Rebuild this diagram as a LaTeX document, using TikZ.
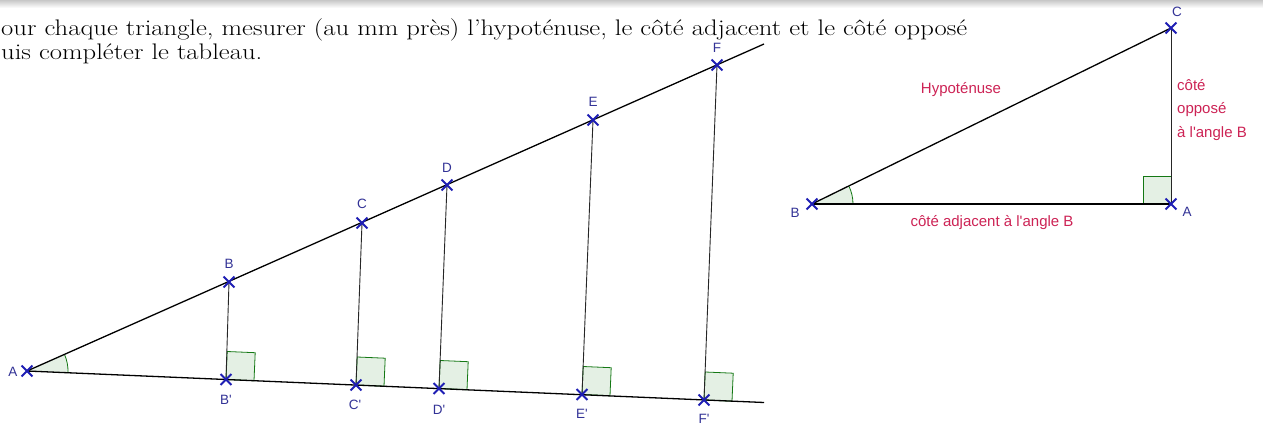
\documentclass[tikz,border=0pt]{standalone}
\usepackage{fontspec}
\usepackage{graphicx}
\setsansfont{Liberation Sans}[Ligatures=TeXOff]
\usetikzlibrary{shapes.misc}
\definecolor{ptblue}{RGB}{30,30,180}
\definecolor{lblblue}{RGB}{50,50,150}
\definecolor{txtred}{RGB}{205,35,85}
\definecolor{anggreen}{RGB}{20,120,20}
\definecolor{angfill}{RGB}{228,240,228}
\begin{document}
\begin{tikzpicture}[x=1pt,y=-1pt,
  pt/.style={draw=ptblue, cross out, minimum size=9pt, inner sep=0pt, line width=1.9pt},
  lbl/.style={text=lblblue, font=\sffamily\fontsize{13.5}{13.5}\selectfont, inner sep=0pt},
  redlbl/.style={text=txtred, font=\sffamily\fontsize{15}{15}\selectfont, inner sep=0pt},
  mainline/.style={line width=1.3pt, black},
  vline/.style={line width=0.9pt, black!85},
  rightmark/.style={fill=angfill, draw=anggreen, line width=0.8pt},
  anglearc/.style={draw=anggreen, line width=0.8pt},
]
\useasboundingbox (0,0) rectangle (1263,428);
\fill[white] (0,0) rectangle (1263,428);
\shade[top color=black!22, bottom color=white] (0,0) rectangle (1263,8);

% instruction text
\node[anchor=base west, inner sep=0pt, font=\fontsize{22.5}{23}\selectfont] (instr) at (1,36)
  {\resizebox{966pt}{\height}{\begin{tabular}[t]{@{}l@{}}our chaque triangle, mesurer (au mm près) l’hypoténuse, le côté adjacent et le côté opposé\\ uis compléter le tableau.\end{tabular}}};

% ---------- left figure ----------
\coordinate (A) at (27,371);
\coordinate (B) at (229,282);
\coordinate (C) at (362,223);
\coordinate (D) at (447,185);
\coordinate (E) at (593,120);
\coordinate (F) at (717,65);
\coordinate (Uend) at (764,44);
\coordinate (Bp) at (226,379.5);
\coordinate (Cp) at (356,385);
\coordinate (Dp) at (439,388.5);
\coordinate (Ep) at (582,394.5);
\coordinate (Fp) at (704,400);
\coordinate (Lend) at (764,402.5);

\fill[angfill] (A) -- ++(2.43:41) arc[start angle=2.43, end angle=-23.92, radius=41] -- cycle;
\draw[anglearc] (A) ++(2.43:41) arc[start angle=2.43, end angle=-23.92, radius=41];

\foreach \p in {Bp,Cp,Dp,Ep,Fp}
  \filldraw[rightmark] (\p) -- ++(28,1.2) -- ++(1.2,-28) -- ++(-28,-1.2) -- cycle;

\draw[mainline] (A) -- (Uend);
\draw[mainline] (A) -- (Lend);
\draw[vline] (B) -- (Bp);
\draw[vline] (C) -- (Cp);
\draw[vline] (D) -- (Dp);
\draw[vline] (E) -- (Ep);
\draw[vline] (F) -- (Fp);

\foreach \p in {A,B,C,D,E,F,Bp,Cp,Dp,Ep,Fp}
  \node[pt] (x\p) at (\p) {};

\node[lbl] (lA) at (13,372) {A};
\node[lbl] (lB) at (229,264) {B};
\node[lbl] (lC) at (362,204) {C};
\node[lbl] (lD) at (447,168) {D};
\node[lbl] (lE) at (593,102) {E};
\node[lbl] (lF) at (717,48) {F};
\node[lbl] (lBp) at (226,400) {B'};
\node[lbl] (lCp) at (355,405) {C'};
\node[lbl] (lDp) at (439,410) {D'};
\node[lbl] (lEp) at (582,414) {E'};
\node[lbl] (lFp) at (704,419) {F'};

% ---------- right figure ----------
\coordinate (rB) at (812,204);
\coordinate (rA) at (1171,204);
\coordinate (rC) at (1171,28);

\fill[angfill] (rB) -- ++(0:41) arc[start angle=0, end angle=-26.12, radius=41] -- cycle;
\draw[anglearc] (rB) ++(0:41) arc[start angle=0, end angle=-26.12, radius=41];
\filldraw[rightmark] (rA) -- ++(-28,0) -- ++(0,-28) -- ++(28,0) -- cycle;

\draw[mainline] (rB) -- (rC);
\draw[line width=1.2pt, black] (rB) -- (rA);
\draw[vline] (rA) -- (rC);

\foreach \p in {rA,rB,rC}
  \node[pt] (x\p) at (\p) {};

\node[lbl] (rlB) at (795,213) {B};
\node[lbl] (rlA) at (1187,212) {A};
\node[lbl] (rlC) at (1177,12) {C};

\node[redlbl] (hyp) at (961,90) {Hypoténuse};
\node[redlbl] (adj) at (992,223) {côté adjacent à l'angle B};
\node[redlbl, anchor=base west] (opp1) at (1177,90) {côté};
\node[redlbl, anchor=base west] (opp2) at (1177,113) {opposé};
\node[redlbl, anchor=base west] (opp3) at (1177,137) {à l'angle B};
\end{tikzpicture}
\end{document}
